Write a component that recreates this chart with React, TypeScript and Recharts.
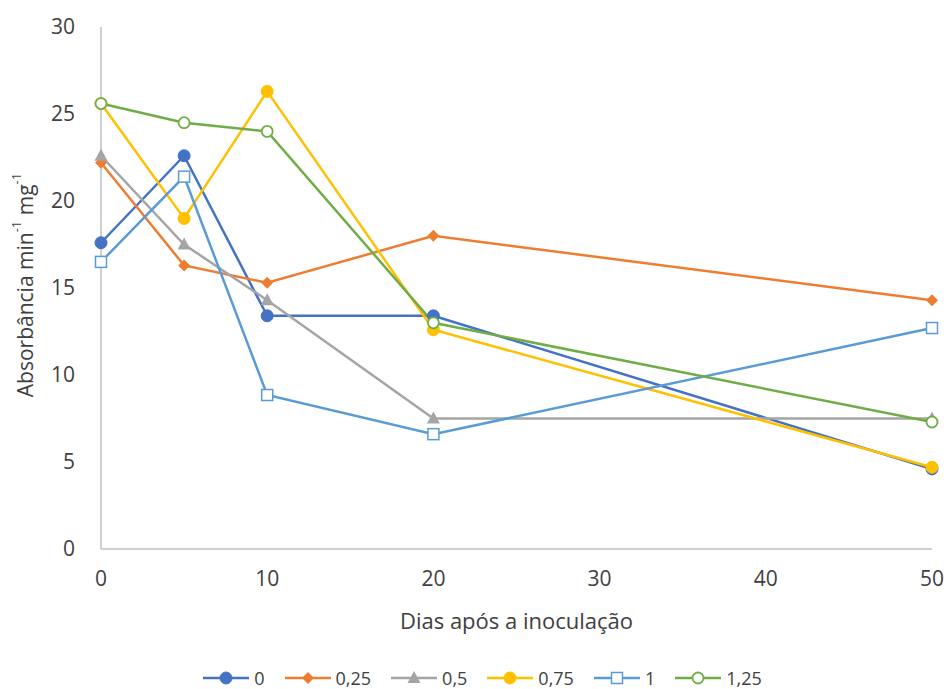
import React from 'react';
import { LineChart, Line, XAxis, YAxis, Legend } from 'recharts';

// Sampling days (x) and enzyme activity per dose (y)
const days = [0, 5, 10, 20, 50];
const dose0 = [17.6, 22.6, 13.4, 13.4, 4.6];
const dose025 = [22.2, 16.3, 15.3, 18.0, 14.3];
const dose05 = [22.6, 17.5, 14.3, 7.5, 7.5];
const dose075 = [25.6, 19.0, 26.3, 12.6, 4.7];
const dose1 = [16.5, 21.4, 8.85, 6.6, 12.7];
const dose125 = [25.6, 24.5, 24.0, 13.0, 7.3];

const xTicks = [0, 10, 20, 30, 40, 50];
const yTicks = [0, 5, 10, 15, 20, 25, 30];

type Shape = 'circle' | 'diamond' | 'triangle' | 'square' | 'ring';

const SERIES: { key: string; name: string; color: string; shape: Shape; values: number[] }[] = [
  { key: 's0', name: '0', color: '#4472C4', shape: 'circle', values: dose0 },
  { key: 's025', name: '0,25', color: '#ED7D31', shape: 'diamond', values: dose025 },
  { key: 's05', name: '0,5', color: '#A5A5A5', shape: 'triangle', values: dose05 },
  { key: 's075', name: '0,75', color: '#FFC000', shape: 'circle', values: dose075 },
  { key: 's1', name: '1', color: '#5B9BD5', shape: 'square', values: dose1 },
  { key: 's125', name: '1,25', color: '#70AD47', shape: 'ring', values: dose125 },
];

const data = days.map((d, i) => {
  const row: Record<string, number> = { day: d };
  SERIES.forEach(s => { row[s.key] = s.values[i]; });
  return row;
});

const FONT = '"Open Sans", "Liberation Sans", sans-serif';
const TEXT = '#404040';
const AXIS = '#D0D0D0';

function Marker({ cx, cy, shape, color }: { cx: number; cy: number; shape: Shape; color: string }) {
  switch (shape) {
    case 'circle':
      return <circle cx={cx} cy={cy} r={6} fill={color} stroke={color} strokeWidth={1} />;
    case 'diamond':
      return <path d={`M${cx},${cy - 6}L${cx + 6},${cy}L${cx},${cy + 6}L${cx - 6},${cy}Z`} fill={color} />;
    case 'triangle':
      return <path d={`M${cx},${cy - 7}L${cx + 6.5},${cy + 5}L${cx - 6.5},${cy + 5}Z`} fill={color} />;
    case 'square':
      return <rect x={cx - 5.5} y={cy - 5.5} width={11} height={11} fill="#fff" stroke={color} strokeWidth={1.5} />;
    case 'ring':
      return <circle cx={cx} cy={cy} r={5.5} fill="#fff" stroke={color} strokeWidth={1.8} />;
  }
}

const dotFor = (shape: Shape, color: string) => (props: any) => {
  const { cx, cy, index } = props;
  if (cx == null || cy == null) return <g key={index} />;
  return <Marker key={index} cx={cx} cy={cy} shape={shape} color={color} />;
};

const YTitle = ({ viewBox }: any) => {
  const x = viewBox.x + 14;
  const y = viewBox.y + viewBox.height / 2 - 3;
  return (
    <text x={x} y={y} transform={`rotate(-90 ${x} ${y})`} textAnchor="middle" dominantBaseline="central"
      fill={TEXT} fontSize={21} fontFamily={FONT}>
      Absorbância min<tspan fontSize={13} dy={-9}>-1</tspan><tspan dy={9}> mg</tspan>
      <tspan fontSize={13} dy={-9}>-1</tspan>
    </text>
  );
};

const XTitle = ({ viewBox }: any) => (
  <text x={viewBox.x + viewBox.width / 2} y={viewBox.y + 80} textAnchor="middle" fill={TEXT}
    fontSize={22} fontFamily={FONT}>
    Dias após a inoculação
  </text>
);

const LegendRow = () => (
  <div style={{ display: 'flex', justifyContent: 'center', alignItems: 'center', height: 18, gap: 20,
    fontFamily: FONT, fontSize: 18, color: TEXT, paddingLeft: 22 }}>
    {SERIES.map(s => (
      <div key={s.key} style={{ display: 'flex', alignItems: 'center', gap: 5 }}>
        <svg width={46} height={16}>
          <line x1={0} y1={8} x2={46} y2={8} stroke={s.color} strokeWidth={2.5} />
          <Marker cx={23} cy={8} shape={s.shape} color={s.color} />
        </svg>
        <span>{s.name}</span>
      </div>
    ))}
  </div>
);

export default function App() {
  return (
    <div style={{ position: 'absolute', left: 0, top: 0, width: 949, height: 689, background: '#fff' }}>
      <LineChart width={949} height={689} data={data} margin={{ top: 27, right: 17, left: 11, bottom: 2 }}>
        <XAxis
          dataKey="day"
          type="number"
          domain={[0, 50]}
          ticks={xTicks}
          tickLine={false}
          tickMargin={16}
          height={120}
          axisLine={{ stroke: AXIS, strokeWidth: 2 }}
          tick={{ fill: TEXT, fontSize: 21, fontFamily: FONT }}
          label={{ content: <XTitle /> }}
        />
        <YAxis
          type="number"
          domain={[0, 30]}
          ticks={yTicks}
          tickLine={false}
          tickMargin={20}
          width={90}
          axisLine={{ stroke: AXIS, strokeWidth: 2 }}
          tick={{ fill: TEXT, fontSize: 21, fontFamily: FONT }}
          label={{ content: <YTitle /> }}
        />
        <Legend verticalAlign="bottom" height={18} content={<LegendRow />} />
        {SERIES.map(s => (
          <Line
            key={s.key}
            dataKey={s.key}
            name={s.name}
            type="linear"
            stroke={s.color}
            strokeWidth={2.5}
            dot={dotFor(s.shape, s.color)}
            activeDot={false}
            isAnimationActive={false}
          />
        ))}
      </LineChart>
    </div>
  );
}
